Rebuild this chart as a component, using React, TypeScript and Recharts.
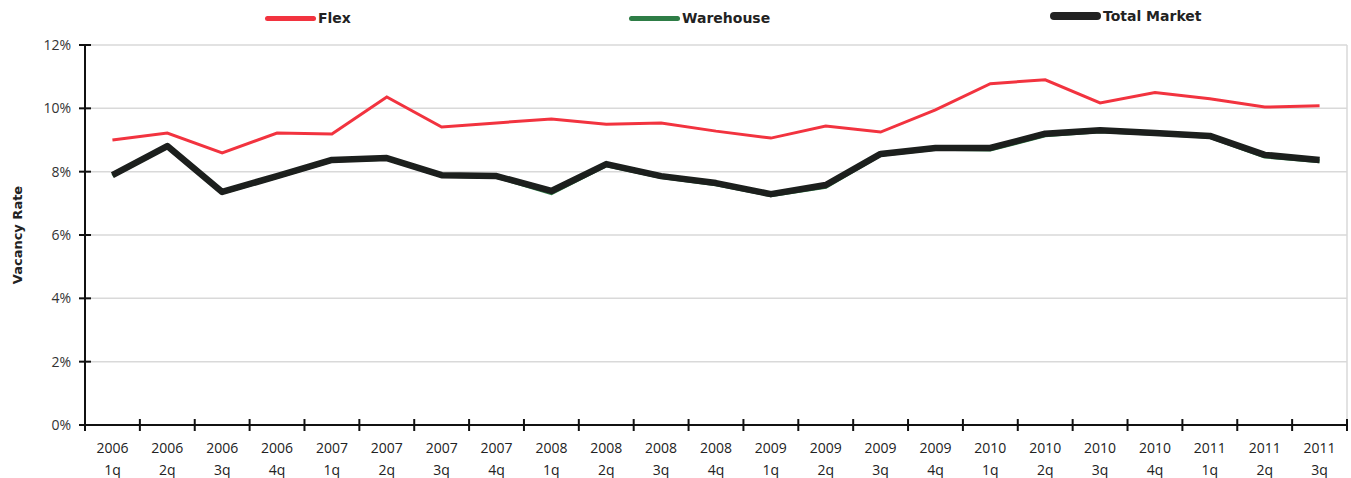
import React from "react"
import {
  LineChart,
  Line,
  XAxis,
  YAxis,
  CartesianGrid,
} from "recharts"

// quarters, split into year / quarter rows on the axis
const YEARS = [
  "2006", "2006", "2006", "2006",
  "2007", "2007", "2007", "2007",
  "2008", "2008", "2008", "2008",
  "2009", "2009", "2009", "2009",
  "2010", "2010", "2010", "2010",
  "2011", "2011", "2011",
]
const QUARTERS = [
  "1q", "2q", "3q", "4q",
  "1q", "2q", "3q", "4q",
  "1q", "2q", "3q", "4q",
  "1q", "2q", "3q", "4q",
  "1q", "2q", "3q", "4q",
  "1q", "2q", "3q",
]

// vacancy rates, %
const FLEX = [
  9.0, 9.22, 8.59, 9.22, 9.19, 10.36, 9.41, 9.54, 9.66, 9.5, 9.54, 9.28,
  9.06, 9.44, 9.25, 9.95, 10.78, 10.9, 10.17, 10.5, 10.3, 10.04, 10.08,
]
const WAREHOUSE = [
  7.87, 8.79, 7.34, 7.84, 8.35, 8.41, 7.87, 7.84, 7.32, 8.2, 7.83, 7.6,
  7.26, 7.52, 8.53, 8.72, 8.7, 9.15, 9.28, 9.2, 9.1, 8.48, 8.33,
]
const TOTAL = [
  7.89, 8.81, 7.36, 7.86, 8.37, 8.43, 7.89, 7.86, 7.39, 8.24, 7.86, 7.64,
  7.29, 7.58, 8.56, 8.75, 8.75, 9.2, 9.31, 9.22, 9.13, 8.53, 8.37,
]
const Y_TICKS = [0, 2, 4, 6, 8, 10, 12]

const data = YEARS.map((year, i) => ({
  period: `${year} ${QUARTERS[i]}`,
  year,
  quarter: QUARTERS[i],
  flex: FLEX[i],
  warehouse: WAREHOUSE[i],
  total: TOTAL[i],
}))

const WIDTH = 1351
const HEIGHT = 478
const MARGIN = { top: 45, right: 4, left: 25, bottom: 8 }
const Y_AXIS_W = 60
const PLOT_W = WIDTH - MARGIN.left - MARGIN.right - Y_AXIS_W
const HALF_BAND = PLOT_W / data.length / 2

const FONT = "'Open Sans', 'DejaVu Sans', sans-serif"
const LEGEND_FONT = "'DejaVu Sans', Verdana, sans-serif"

function QuarterTick(props: any) {
  const { x, y, payload, index } = props
  const d = data[index] ?? data.find((r) => r.period === payload.value)
  const last = index === data.length - 1
  return (
    <g>
      <line x1={x - HALF_BAND} x2={x - HALF_BAND} y1={y - 6} y2={y + 6} stroke="#111" strokeWidth={2} />
      {last && (
        <line x1={x + HALF_BAND} x2={x + HALF_BAND} y1={y - 6} y2={y + 6} stroke="#111" strokeWidth={2} />
      )}
      <text x={x} y={y + 28} textAnchor="middle" fontSize={14} fill="#222" fontFamily={FONT}>
        {d?.year}
      </text>
      <text x={x} y={y + 50} textAnchor="middle" fontSize={14} fill="#222" fontFamily={FONT}>
        {d?.quarter}
      </text>
    </g>
  )
}

function RateTick(props: any) {
  const { x, y, payload } = props
  return (
    <g>
      <line x1={x - 6} x2={x + 6} y1={y} y2={y} stroke="#111" strokeWidth={2} />
      <text x={x - 14} y={y + 5} textAnchor="end" fontSize={14} fill="#333" fontFamily={FONT}>
        {`${payload.value}%`}
      </text>
    </g>
  )
}

const legendItems = [
  { label: "Flex", color: "#f2333f", width: 5, left: 265 },
  { label: "Warehouse", color: "#2e7d46", width: 5, left: 629 },
  { label: "Total Market", color: "#222", width: 8, left: 1050 },
]

export default function App() {
  return (
    <div
      style={{
        position: "absolute",
        left: 0,
        top: 0,
        width: WIDTH,
        height: HEIGHT,
        background: "#fff",
      }}
    >
      {legendItems.map((item, i) => (
        <div
          key={item.label}
          style={{
            position: "absolute",
            left: item.left,
            top: i === 2 ? 8 : 10,
            display: "flex",
            alignItems: "center",
            fontFamily: LEGEND_FONT,
            fontWeight: 700,
            fontSize: 14,
            color: "#222",
          }}
        >
          <span
            style={{
              display: "inline-block",
              width: 51,
              height: item.width,
              borderRadius: item.width / 2,
              background: item.color,
              marginRight: 2,
            }}
          />
          {item.label}
        </div>
      ))}

      <div
        style={{
          position: "absolute",
          left: 17,
          top: 235,
          transform: "translate(-50%, -50%) rotate(-90deg)",
          fontFamily: LEGEND_FONT,
          fontWeight: 700,
          fontSize: 13,
          color: "#222",
          whiteSpace: "nowrap",
        }}
      >
        Vacancy Rate
      </div>

      <LineChart width={WIDTH} height={HEIGHT} data={data} margin={MARGIN}>
        <CartesianGrid
          stroke="#d9d9d9"
          strokeWidth={1.5}
          verticalCoordinatesGenerator={({ offset }: any) => [offset.left + offset.width]}
        />
        <XAxis
          dataKey="period"
          scale="band"
          interval={0}
          height={45}
          tickSize={0}
          tickMargin={0}
          tickLine={false}
          axisLine={{ stroke: "#111", strokeWidth: 2 }}
          tick={<QuarterTick />}
        />
        <YAxis
          domain={[0, 12]}
          ticks={Y_TICKS}
          width={Y_AXIS_W}
          tickSize={0}
          tickMargin={0}
          tickLine={false}
          axisLine={{ stroke: "#111", strokeWidth: 2 }}
          tick={<RateTick />}
        />
        <Line
          type="linear"
          dataKey="flex"
          stroke="#f2333f"
          strokeWidth={3}
          dot={false}
          isAnimationActive={false}
        />
        <Line
          type="linear"
          dataKey="warehouse"
          stroke="#2e7d46"
          strokeWidth={4}
          dot={false}
          isAnimationActive={false}
        />
        <Line
          type="linear"
          dataKey="total"
          stroke="#1c1f1d"
          strokeWidth={6.5}
          strokeLinejoin="round"
          dot={false}
          isAnimationActive={false}
        />
      </LineChart>
    </div>
  )
}
